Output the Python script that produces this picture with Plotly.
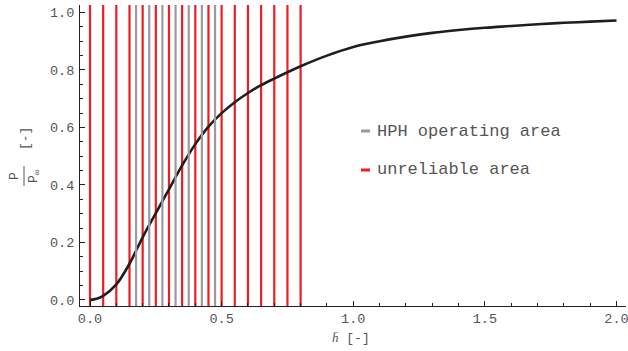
import plotly.graph_objects as go

# ---- data ----
h_vals = [0.0, 0.025, 0.05, 0.1, 0.15, 0.2, 0.25, 0.3, 0.35, 0.4, 0.45, 0.5, 0.55, 0.6,
          0.65, 0.7, 0.75, 0.8, 0.9, 1.0, 1.1, 1.2, 1.3, 1.4, 1.5, 1.6, 1.7, 1.8, 1.9, 2.0]
p_vals = [0.0, 0.004, 0.014, 0.054, 0.126, 0.218, 0.302, 0.385, 0.468, 0.542, 0.603, 0.65,
          0.688, 0.72, 0.747, 0.77, 0.792, 0.813, 0.85, 0.88, 0.9, 0.916, 0.929, 0.939,
          0.947, 0.953, 0.959, 0.964, 0.968, 0.972]
unreliable_h = [0.0, 0.05, 0.1, 0.15, 0.2, 0.25, 0.3, 0.35, 0.4, 0.45, 0.5,
                0.55, 0.6, 0.65, 0.7, 0.75, 0.8]
hph_h = [0.175, 0.225, 0.275, 0.325, 0.375, 0.425, 0.475]
x_ticks = [0.0, 0.5, 1.0, 1.5, 2.0]
x_tick_labels = ["0.0", "0.5", "1.0", "1.5", "2.0"]
y_ticks = [0.0, 0.2, 0.4, 0.6, 0.8, 1.0]
y_tick_labels = ["0.0", "0.2", "0.4", "0.6", "0.8", "1.0"]
legend_labels = ["HPH operating area", "unreliable area"]

X_RANGE = [-0.038, 2.036]
Y_RANGE = [-0.021, 1.026]

W, H = 628, 351
ML, MR, MT, MB = 80, 2, 5, 45
PW, PH = W - ML - MR, H - MT - MB

RED = "#ee1c25"
GRAY = "#9b9b9f"
TXT = "#555555"
MONO = "Liberation Mono"


def px(x):
    return (x - ML) / PW


def py(y):
    return (H - MB - y) / PH


def vlines(xs):
    X, Y = [], []
    for x in xs:
        X += [x, x, None]
        Y += [Y_RANGE[0], Y_RANGE[1], None]
    return X, Y


fig = go.Figure()

rx, ry = vlines(unreliable_h)
fig.add_trace(go.Scatter(x=rx, y=ry, mode="lines", line=dict(color=RED, width=2.2),
                         hoverinfo="skip", showlegend=False))
fig.add_trace(go.Scatter(x=h_vals, y=p_vals, mode="lines",
                         line=dict(color="#1e1e1e", width=2.6, shape="spline", smoothing=1.0),
                         showlegend=False))
gx, gy = vlines(hph_h)
fig.add_trace(go.Scatter(x=gx, y=gy, mode="lines", line=dict(color=GRAY, width=2.2),
                         hoverinfo="skip", showlegend=False))

axis_common = dict(showgrid=False, zeroline=False, showline=True, linecolor="#222",
                   linewidth=1, ticks="inside", tickcolor="#222", tickwidth=1,
                   tickfont=dict(family=MONO, size=13.5, color=TXT), mirror=False,
                   automargin=False, ticklabeloverflow="allow")

fig.update_xaxes(range=X_RANGE, tickvals=x_ticks, ticktext=x_tick_labels, ticklen=5,
                 minor=dict(ticks="inside", dtick=0.1, tick0=0, ticklen=3, tickcolor="#222"),
                 **axis_common)
fig.update_yaxes(range=Y_RANGE, tickvals=y_ticks, ticktext=y_tick_labels, ticklen=5,
                 ticklabelstandoff=2,
                 minor=dict(ticks="inside", dtick=0.05, tick0=0, ticklen=3, tickcolor="#222"),
                 **axis_common)

annotations = []
shapes = []

# legend
for i, (lab, col) in enumerate(zip(legend_labels, [GRAY, RED])):
    yc = [131, 170][i]
    shapes.append(dict(type="line", xref="paper", yref="paper", x0=px(361), x1=px(370),
                       y0=py(yc), y1=py(yc), line=dict(color=col, width=3)))
    annotations.append(dict(text=lab, xref="paper", yref="paper", x=px(375), y=py(yc),
                            xanchor="left", yanchor="middle", showarrow=False,
                            font=dict(family=MONO, size=17, color=TXT)))

# x-axis title
annotations.append(dict(text="<span style='font-family:Liberation Serif'><i>h̄</i></span> [-]",
                        xref="paper", yref="paper", x=px(351), y=py(338),
                        xanchor="center", yanchor="middle", showarrow=False,
                        font=dict(family=MONO, size=13, color=TXT)))

# y-axis title as a rotated fraction
annotations.append(dict(text="P", xref="paper", yref="paper", x=px(14), y=py(176),
                        xanchor="center", yanchor="middle", showarrow=False, textangle=-90,
                        font=dict(family=MONO, size=13, color=TXT)))
annotations.append(dict(text="P<sub>∞</sub>", xref="paper", yref="paper", x=px(34), y=py(176),
                        xanchor="center", yanchor="middle", showarrow=False, textangle=-90,
                        font=dict(family=MONO, size=13, color=TXT)))
annotations.append(dict(text="[-]", xref="paper", yref="paper", x=px(25), y=py(139),
                        xanchor="center", yanchor="middle", showarrow=False, textangle=-90,
                        font=dict(family=MONO, size=13, color=TXT)))
shapes.append(dict(type="line", xref="paper", yref="paper", x0=px(24), x1=px(24),
                   y0=py(166), y1=py(186), line=dict(color=TXT, width=1)))

fig.update_layout(width=W, height=H, margin=dict(l=ML, r=MR, t=MT, b=MB),
                  plot_bgcolor="white", paper_bgcolor="white", showlegend=False,
                  annotations=annotations, shapes=shapes)

fig.write_html("out.html", config={"displayModeBar": False},
               post_script="document.body.style.margin='0';document.body.style.padding='0';")
